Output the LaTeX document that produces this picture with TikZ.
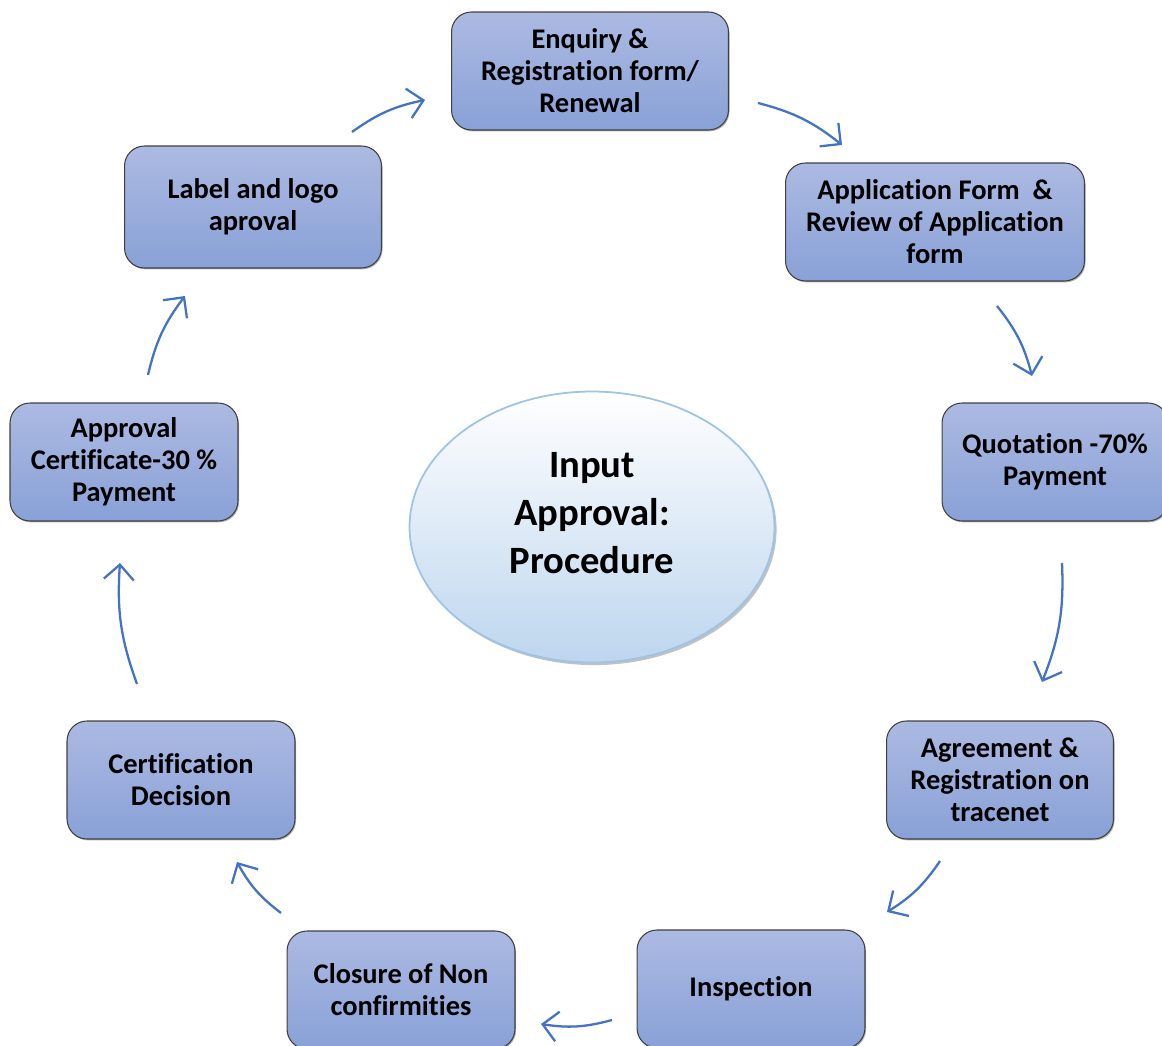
\documentclass[tikz,border=0pt]{standalone}
\usepackage{fontspec}
\setmainfont{Carlito}[Ligatures=NoCommon]
\usetikzlibrary{shapes.geometric,shadows,arrows.meta}
\definecolor{boxtop}{RGB}{172,186,226}
\definecolor{boxbot}{RGB}{137,161,215}
\definecolor{flowblue}{RGB}{68,114,196}
\definecolor{ovalrim}{RGB}{157,195,230}
\definecolor{ovalbot}{RGB}{189,214,238}
\tikzstyle{stage} = [rectangle, rounded corners=0.4cm, draw=black!75, line width=0.6pt,
  top color=boxtop, bottom color=boxbot, align=center, minimum height=2.36cm,
  font=\fontsize{16.2}{18.2}\selectfont\bfseries,
  drop shadow={shadow xshift=0.6pt, shadow yshift=-0.8pt, opacity=.6}]
\tikzstyle{flow} = [draw=flowblue, line width=1.3pt, -{Straight Barb[length=0.3cm,width=0.6cm]}, bend left=12]
\newcommand{\arr}[2]{\draw[flow] (#1) to (#2);}

\begin{document}
\begin{tikzpicture}[x=0.02cm, y=0.02cm]
	\useasboundingbox (0,0) rectangle (1162,1045);
	% centre
	\node [ellipse, draw=ovalrim, line width=1pt, top color=white, bottom color=ovalbot,
		minimum width=7.3cm, minimum height=5.42cm,
		drop shadow={shadow xshift=1.2pt, shadow yshift=-1.5pt, fill=black!35, opacity=.7}]
		(centre) at (592,518) {};
	\node [align=center, font=\fontsize{22}{27.3}\selectfont\bfseries] (title) at (592,532)
		{Input\\Approval:\\Procedure};
	% stages, clockwise
	\node [stage, minimum width=5.54cm] (enq) at (590,974) {Enquiry \&\\Registration form/\\Renewal};
	\node [stage, minimum width=5.98cm] (app) at (935,823) {Application Form \ \&\\Review of Application\\form};
	\node [stage, minimum width=4.52cm] (quo) at (1055,583) {Quotation -70\%\\Payment};
	\node [stage, minimum width=4.54cm] (agr) at (1000,265) {Agreement \&\\Registration on\\tracenet};
	\node [stage, minimum width=4.56cm] (ins) at (751,56) {Inspection};
	\node [stage, minimum width=4.56cm] (clo) at (401,55) {Closure of Non\\confirmities};
	\node [stage, minimum width=4.56cm] (dec) at (181,265) {Certification\\Decision};
	\node [stage, minimum width=4.56cm] (apr) at (124,583) {Approval\\Certificate-30 \%\\Payment};
	\node [stage, minimum width=5.14cm, minimum height=2.44cm] (lab) at (253,838) {Label and logo\\aproval};
	% arrow ends
	\coordinate (a1s) at (352,913); \coordinate (a1e) at (425,945);
	\coordinate (a2s) at (758,942); \coordinate (a2e) at (842,900);
	\coordinate (a3s) at (997,739); \coordinate (a3e) at (1032,669);
	\coordinate (a4s) at (1062,482); \coordinate (a4e) at (1042,363);
	\coordinate (a5s) at (940,184); \coordinate (a5e) at (887,133);
	\coordinate (a6s) at (612,25); \coordinate (a6e) at (541,21);
	\coordinate (a7s) at (281,132); \coordinate (a7e) at (237,183);
	\coordinate (a8s) at (137,361); \coordinate (a8e) at (120,482);
	\coordinate (a9s) at (148,670); \coordinate (a9e) at (185,749);
	\foreach \i in {1,...,9}{\arr{a\i s}{a\i e}}
\end{tikzpicture}
\end{document}
